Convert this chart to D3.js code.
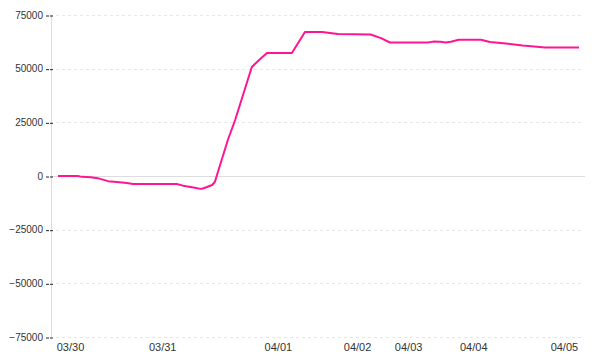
<!DOCTYPE html>
<html><head><meta charset="utf-8">
<script src="https://cdn.jsdelivr.net/npm/d3@7"></script>
<style>body{margin:0;background:#fff}svg{display:block}</style>
</head><body>
<script>
// sample position (0..100 along the time axis) and value
const positions = [0, 3.8, 4.6, 6.3, 7.6, 9.6, 11.3, 13.2, 14.4, 22.8, 24, 26.3, 27.3, 27.8, 28.6, 29.6, 30.1, 32.6, 34, 37.2, 38.4, 40.1, 44.9, 47.4, 50.7, 53.7, 60, 62, 63.7, 71, 72, 73.4, 74.4, 75.4, 76.9, 81.2, 82.9, 86, 89.2, 93.5, 100];
const values = [0, 0, -400, -600, -1000, -2400, -2800, -3300, -3700, -3700, -4500, -5500, -6000, -5800, -5124, -4192, -2795, 16770, 26087, 50773, 53567, 57293, 57293, 67075, 67075, 66143, 65910, 64236, 62185, 62185, 62600, 62500, 62200, 62500, 63490, 63490, 62420, 61720, 60790, 59860, 59860];
const tickPositions = [2.3, 20.0, 42.2, 57.4, 67.2, 79.7, 97.1];
const tickLabels = ["03/30", "03/31", "04/01", "04/02", "04/03", "04/04", "04/05"];
const yTicks = [-75000, -50000, -25000, 0, 25000, 50000, 75000];

const W = 600, H = 360;
const svg = d3.select("body").append("svg").attr("width", W).attr("height", H)
  .style("font-family", "'Liberation Sans', Arial, sans-serif");

const x = d3.scaleLinear().domain([0, 100]).range([58, 579]);
const y = d3.scaleLinear().domain([-75000, 75000]).range([337, 15]);

// grid
svg.append("g").selectAll("line").data(yTicks.filter(d => d !== 0)).join("line")
  .attr("x1", 56).attr("x2", 583)
  .attr("y1", d => Math.round(y(d)) + 0.5).attr("y2", d => Math.round(y(d)) + 0.5)
  .attr("stroke", "#e6e6e6").attr("stroke-dasharray", "3,3");
svg.append("line").attr("x1", 51).attr("x2", 585)
  .attr("y1", Math.round(y(0)) + 0.5).attr("y2", Math.round(y(0)) + 0.5)
  .attr("stroke", "#dddddd");

// y axis
svg.append("line").attr("x1", 51.5).attr("x2", 51.5).attr("y1", y(75000)).attr("y2", y(-75000))
  .attr("stroke", "#dddddd");
const yAxis = d3.axisLeft(y).tickValues(yTicks).tickSize(8).tickPadding(2).tickFormat(d3.format("d"));
const ya = svg.append("g").attr("transform", "translate(53,0)").call(yAxis);
ya.select(".domain").remove();
ya.selectAll(".tick line").attr("stroke", "#222").attr("stroke-dasharray", "3,1")
  .attr("transform", "translate(0,0.5)");
ya.selectAll(".tick text").attr("fill", "#333").style("font-size", "10px")
  .style("font-family", "'Liberation Sans', Arial, sans-serif");

// x axis labels
const xAxis = d3.axisBottom(x).tickValues(tickPositions).tickSize(0).tickPadding(0)
  .tickFormat((d, i) => tickLabels[i]);
const xa = svg.append("g").attr("transform", "translate(0,343)").call(xAxis);
xa.select(".domain").remove();
xa.selectAll(".tick text").attr("fill", "#333").style("font-size", "11px")
  .style("font-family", "'Liberation Sans', Arial, sans-serif");

// line
const pts = positions.map((p, i) => [p, values[i]]);
svg.append("path").datum(pts)
  .attr("fill", "none").attr("stroke", "#ff1493").attr("stroke-width", 2)
  .attr("stroke-linejoin", "round")
  .attr("d", d3.line().x(d => x(d[0])).y(d => y(d[1])));
</script>
</body></html>
